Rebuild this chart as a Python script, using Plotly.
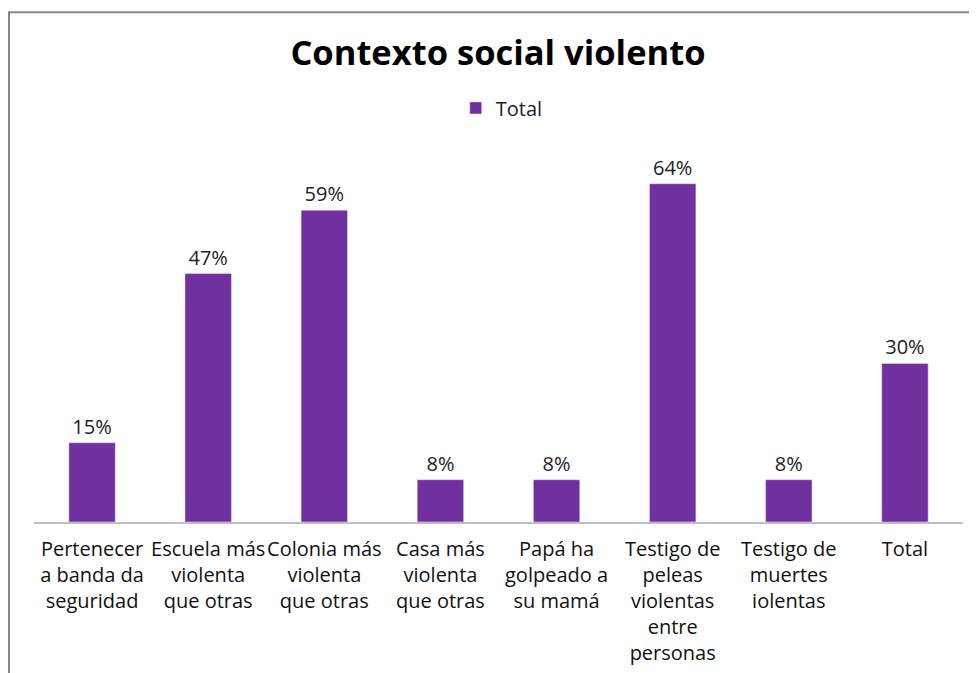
import plotly.graph_objects as go

categories = [
    "Pertenecer<br>a banda da<br>seguridad",
    "Escuela más<br>violenta<br>que otras",
    "Colonia más<br>violenta<br>que otras",
    "Casa más<br>violenta<br>que otras",
    "Papá ha<br>golpeado a<br>su mamá",
    "Testigo de<br>peleas<br>violentas<br>entre<br>personas",
    "Testigo de<br>muertes<br>iolentas",
    "Total",
]
values = [15, 47, 59, 8, 8, 64, 8, 30]
labels = ["15%", "47%", "59%", "8%", "8%", "64%", "8%", "30%"]

fig = go.Figure()
fig.add_trace(go.Bar(
    x=categories, y=values, name="Total",
    marker=dict(color="#7030A0"),
    text=labels, textposition="outside", cliponaxis=False,
    textfont=dict(size=20, color="#222222", family="Open Sans"),
))

fig.update_layout(
    width=977, height=673,
    margin=dict(l=26, r=22, t=144, b=159),
    paper_bgcolor="white", plot_bgcolor="white",
    bargap=0.6,
    title=dict(text="<b>Contexto social violento</b>", x=0.5015, xanchor="center",
               y=0.933, yref="container", yanchor="middle",
               font=dict(family="Open Sans", size=34.5, color="black")),
    showlegend=True,
    legend=dict(orientation="h", x=0.5035, xanchor="center", y=1.119, yanchor="middle",
                font=dict(family="Open Sans", size=20, color="#222222"),
                itemwidth=30),
    font=dict(family="Open Sans"),
    xaxis=dict(showline=True, linecolor="#BFBFBF", linewidth=2, ticks="",
               tickangle=0, ticklabelstandoff=8,
               tickfont=dict(size=20, color="#111111", family="Open Sans")),
    yaxis=dict(range=[0, 70], visible=False),
    shapes=[dict(type="rect", xref="paper", yref="paper",
                 x0=-0.0269, x1=1.2, y0=-0.6, y1=1.378,
                 line=dict(color="#878787", width=2))],
)

fig.write_html("out.html")
